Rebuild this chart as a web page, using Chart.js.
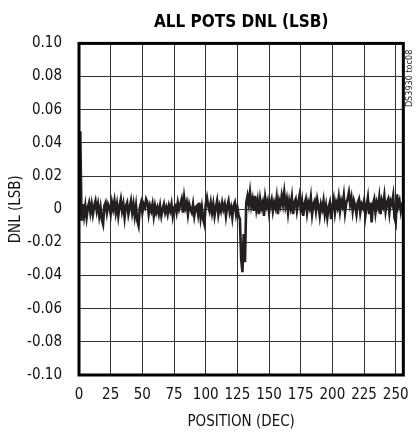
<!DOCTYPE html>
<html>
<head>
<meta charset="utf-8">
<script src="https://cdn.jsdelivr.net/npm/chart.js@4"></script>
<style>
  html, body { margin: 0; padding: 0; background: #fff; }
  #wrap { width: 420px; height: 434px; }
</style>
</head>
<body>
<div id="wrap"><canvas id="dnlChart" width="420" height="434"></canvas></div>
<script>
// DNL per wiper position (LSB)
const dnl = [
  -0.004, 0.047, -0.007, 0.003, -0.004, 0.002, -0.005, 0.001, 0.004, -0.002,
  0.003, -0.003, 0.002, 0.005, -0.001, 0.003, -0.004, 0.001, -0.006, -0.009,
  0.002, 0.004, -0.002, 0.003, 0.001, -0.003, 0.004, 0.000, 0.005, -0.002,
  0.003, -0.004, 0.002, 0.006, -0.001, 0.003, -0.005, 0.002, 0.004, -0.003,
  0.001, 0.005, -0.002, 0.003, -0.004, 0.002, -0.007, -0.010, 0.001, 0.004,
  -0.002, 0.003, 0.001, 0.006, 0.004, -0.003, 0.002, -0.001, 0.003, -0.004,
  0.002, -0.002, 0.001, -0.003, 0.002, -0.004, 0.000, 0.003, -0.002, 0.001,
  -0.003, 0.002, -0.001, 0.003, -0.004, 0.001, 0.002, -0.002, 0.004, 0.000,
  0.003, 0.006, -0.002, 0.007, 0.001, 0.004, -0.003, 0.003, 0.000, -0.002,
  0.003, -0.004, 0.001, 0.002, -0.003, 0.004, -0.005, 0.001, -0.006, -0.009,
  0.003, 0.007, 0.002, -0.001, 0.004, -0.002, 0.003, -0.004, 0.001, 0.005,
  -0.003, 0.002, -0.001, 0.004, 0.000, 0.003, -0.004, 0.002, 0.005, -0.002,
  0.001, -0.005, 0.002, 0.004, -0.003, 0.001, -0.004, -0.006, -0.030, -0.038,
  -0.015, -0.032, 0.004, 0.008, 0.003, 0.010, 0.002, 0.006, -0.001, 0.008,
  0.000, 0.005, -0.003, 0.006, 0.001, 0.004, -0.004, 0.007, 0.002, 0.005,
  -0.002, 0.003, 0.006, -0.001, 0.004, 0.001, 0.007, -0.003, 0.005, 0.002,
  0.008, 0.003, 0.010, 0.002, 0.006, -0.002, 0.005, 0.001, 0.007, -0.003,
  0.004, 0.006, -0.001, 0.004, 0.008, 0.000, 0.005, -0.004, 0.003, 0.006,
  -0.002, 0.004, 0.001, 0.007, -0.003, 0.003, 0.005, -0.001, 0.006, 0.002,
  -0.004, 0.003, 0.000, 0.005, -0.003, 0.002, -0.005, 0.001, 0.004, -0.006,
  0.002, 0.006, -0.002, 0.004, 0.001, 0.007, -0.001, 0.005, 0.002, 0.008,
  -0.002, 0.004, 0.006, 0.010, 0.003, 0.007, -0.001, 0.005, 0.002, -0.003,
  0.004, 0.006, -0.002, 0.003, 0.001, 0.005, -0.004, 0.002, 0.007, -0.003,
  0.004, -0.008, 0.003, 0.006, -0.002, 0.004, 0.001, 0.007, -0.003, 0.005,
  0.002, 0.008, -0.001, 0.004, 0.006, -0.002, 0.005, 0.003, 0.008, -0.005,
  -0.008, 0.009, 0.002, 0.005, -0.001, 0.004
];

const xTicks = [0, 25, 50, 75, 100, 125, 150, 175, 200, 225, 250];
const yTicks = [-0.10, -0.08, -0.06, -0.04, -0.02, 0, 0.02, 0.04, 0.06, 0.08, 0.10];

const narrow = "'Liberation Sans Narrow', 'DejaVu Sans Condensed', 'Liberation Sans', sans-serif";

// frame round the plot plus the little part number on the right
const framePlugin = {
    id: 'frame',
    afterDraw(chart) {
        const { ctx, chartArea } = chart;
        ctx.save();
        ctx.strokeStyle = '#000';
        ctx.lineWidth = 3;
        ctx.strokeRect(chartArea.left, chartArea.top,
            chartArea.right - chartArea.left, chartArea.bottom - chartArea.top);

        ctx.translate(chartArea.right + 6, chartArea.top + 35);
        ctx.rotate(-Math.PI / 2);
        ctx.fillStyle = '#222';
        ctx.font = '9px ' + narrow;
        ctx.textAlign = 'center';
        ctx.textBaseline = 'middle';
        ctx.fillText('DS3930 toc08', 0, 0);
        ctx.restore();
    }
};

const ctx = document.getElementById('dnlChart').getContext('2d');
new Chart(ctx, {
    type: 'line',
    data: {
        datasets: [{
            data: dnl.map((v, i) => ({ x: i, y: v })),
            borderColor: '#231f20',
            borderWidth: 2.6,
            pointRadius: 0,
            tension: 0
        }]
    },
    options: {
        responsive: false,
        animation: false,
        layout: { padding: { left: 0, right: 11, top: 0, bottom: 0 } },
        plugins: {
            legend: { display: false },
            tooltip: { enabled: false },
            title: {
                display: true,
                fullSize: false,
                text: 'ALL POTS DNL (LSB)',
                color: '#000',
                font: { family: narrow, size: 17, weight: 'bold' },
                padding: { top: 12, bottom: 11 }
            }
        },
        scales: {
            x: {
                type: 'linear',
                min: 0,
                max: 256,
                afterFit: s => { s.height = 59; },
                afterBuildTicks: s => { s.ticks = xTicks.map(v => ({ value: v })); },
                grid: { color: '#333', lineWidth: 1, drawTicks: false },
                border: { display: false },
                ticks: { color: '#111', padding: 11, maxRotation: 0, font: { family: narrow, size: 15 } },
                title: {
                    display: true,
                    text: 'POSITION (DEC)',
                    color: '#111',
                    font: { family: narrow, size: 15 },
                    padding: { top: 4, bottom: 3 }
                }
            },
            y: {
                min: -0.10,
                max: 0.10,
                afterFit: s => { s.width = 79; },
                afterBuildTicks: s => { s.ticks = yTicks.map(v => ({ value: v })); },
                grid: { color: '#333', lineWidth: 1, drawTicks: false },
                border: { display: false },
                ticks: {
                    color: '#111',
                    padding: 17,
                    font: { family: narrow, size: 15 },
                    callback: v => v.toFixed(2).replace('0.00', '0')
                },
                title: {
                    display: true,
                    text: 'DNL (LSB)',
                    color: '#111',
                    font: { family: narrow, size: 15 },
                    padding: { top: 7, bottom: 4 }
                }
            }
        }
    },
    plugins: [framePlugin]
});
</script>
</body>
</html>
